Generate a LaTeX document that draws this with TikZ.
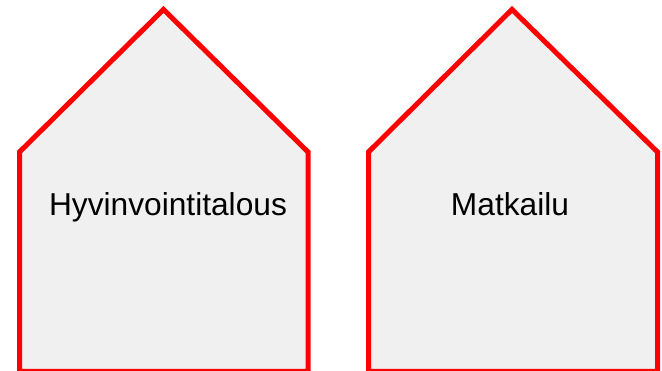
\documentclass[tikz,border=0pt]{standalone}
\usepackage{fontspec}
\setmainfont{Liberation Sans}
\definecolor{talogray}{HTML}{F0F0F0}
\tikzset{
    talo/.style={draw=red, fill=talogray, line width=5pt},
    talonimi/.style={anchor=base, inner sep=0pt, font=\fontsize{31.7}{38}\selectfont}
}
\begin{document}
\begin{tikzpicture}[x=1pt, y=1pt]
    \useasboundingbox (0,0) rectangle (662,371);

    % Talot
    \draw[talo] (19.5,-0.5) -- (19.5,219) -- (163.5,361.5) -- (308,219) -- (308,-0.5) -- cycle;
    \draw[talo] (368.5,-0.5) -- (368.5,219) -- (512,361.5) -- (657.5,219) -- (657.5,-0.5) -- cycle;

    % Nimet
    \node[talonimi] (hyvinvointi) at (168,155) {Hyvinvointitalous};
    \node[talonimi] (matkailu) at (510,155) {Matkailu};
\end{tikzpicture}
\end{document}
